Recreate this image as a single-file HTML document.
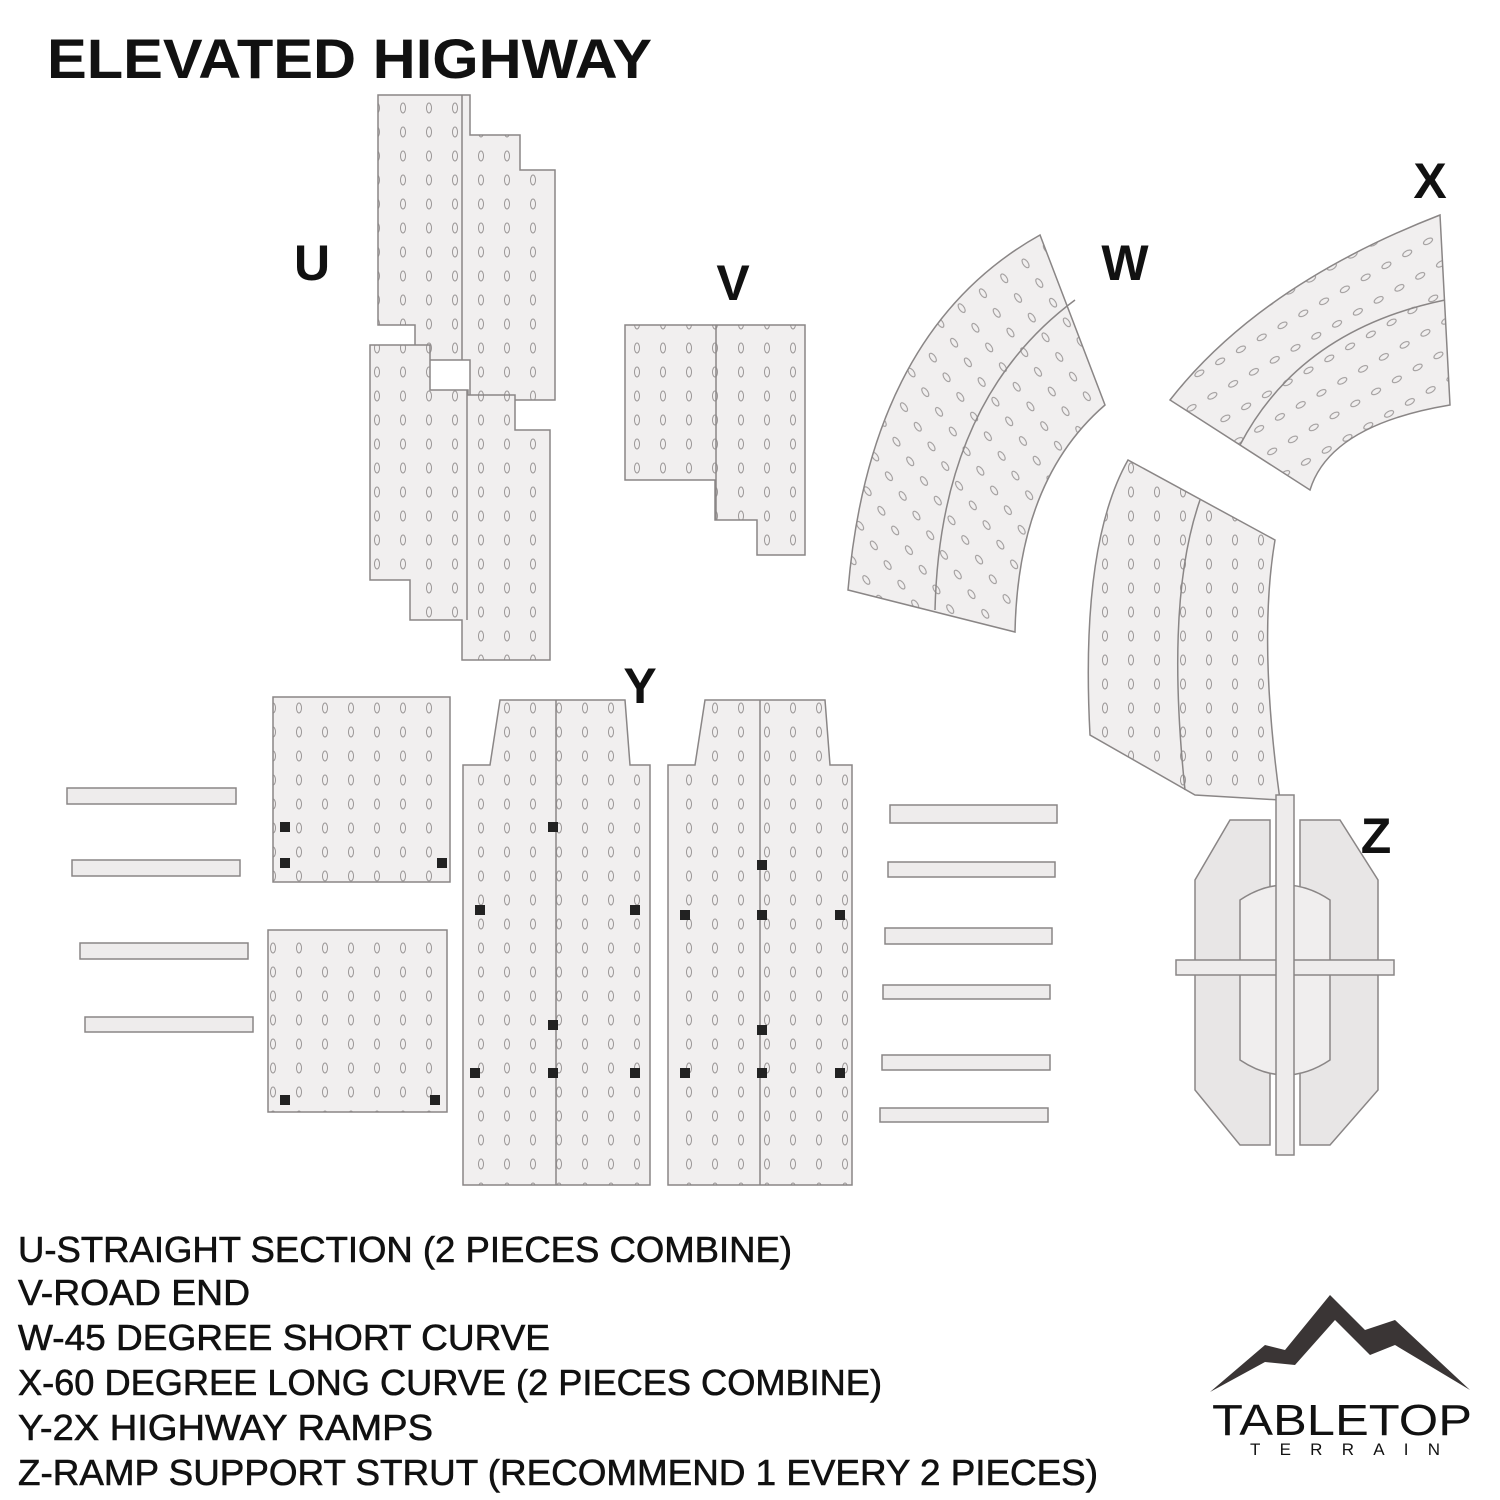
<!DOCTYPE html>
<html><head><meta charset="utf-8"><style>
html,body{margin:0;padding:0;background:#fff;}
svg{display:block;}
text{font-family:"Liberation Sans",sans-serif;fill:#111;}
</style></head><body>
<svg width="1500" height="1500" viewBox="0 0 1500 1500" xmlns="http://www.w3.org/2000/svg">
<defs>
<pattern id="ov" width="26" height="24" patternUnits="userSpaceOnUse">
<rect width="26" height="24" fill="#f1efef"/>
<ellipse cx="13" cy="12" rx="2.5" ry="5" fill="none" stroke="#9a9696" stroke-width="1"/>
</pattern>
<pattern id="ovr" width="26" height="24" patternUnits="userSpaceOnUse" patternTransform="rotate(-35)">
<rect width="26" height="24" fill="#f1efef"/>
<ellipse cx="13" cy="12" rx="2.5" ry="5" fill="none" stroke="#9a9696" stroke-width="1"/>
</pattern>
<pattern id="ovx" width="26" height="24" patternUnits="userSpaceOnUse" patternTransform="rotate(60)">
<rect width="26" height="24" fill="#f1efef"/>
<ellipse cx="13" cy="12" rx="2.5" ry="5" fill="none" stroke="#9a9696" stroke-width="1"/>
</pattern>
</defs>
<rect width="1500" height="1500" fill="#fff"/>
<text x="47" y="78" font-size="56" font-weight="bold" textLength="605" lengthAdjust="spacingAndGlyphs">ELEVATED HIGHWAY</text>

<g stroke="#8a8686" stroke-width="1.5">
<path d="M378,95 L470,95 L470,135 L520,135 L520,170 L555,170 L555,400 L470,400 L470,360 L415,360 L415,325 L378,325 Z" fill="url(#ov)"/>
<path d="M370,345 L430,345 L430,390 L468,390 L468,395 L515,395 L515,430 L550,430 L550,660 L462,660 L462,620 L410,620 L410,580 L370,580 Z" fill="url(#ov)"/>
<line x1="462" y1="95" x2="462" y2="360"/><line x1="467" y1="390" x2="467" y2="620"/>
<path d="M625,325 L805,325 L805,555 L757,555 L757,520 L715,520 L715,480 L625,480 Z" fill="url(#ov)"/>
<line x1="716" y1="325" x2="716" y2="520"/>
<path d="M848,590 L1015,632 Q1018,480 1105,405 L1040,235 Q870,330 848,590 Z" fill="url(#ovr)"/>
<path d="M935,610 Q940,400 1075,300" fill="none"/>
<path d="M1170,400 Q1260,285 1440,215 L1450,405 Q1330,425 1310,490 Z" fill="url(#ovx)"/>
<path d="M1240,445 Q1300,330 1445,300" fill="none"/>
<path d="M1090,735 Q1080,545 1128,460 L1275,540 Q1258,640 1280,800 L1195,795 Z" fill="url(#ov)"/>
<path d="M1185,790 Q1165,600 1200,500" fill="none"/>
<path d="M463,765 L490,765 L500,700 L625,700 L630,765 L650,765 L650,1185 L463,1185 Z" fill="url(#ov)"/>
<path d="M668,765 L695,765 L705,700 L825,700 L830,765 L852,765 L852,1185 L668,1185 Z" fill="url(#ov)"/>
<line x1="556" y1="700" x2="556" y2="1185"/><line x1="760" y1="700" x2="760" y2="1185"/>
<path d="M273,697 L450,697 L450,882 L273,882 Z" fill="url(#ov)"/>
<path d="M268,930 L447,930 L447,1112 L268,1112 Z" fill="url(#ov)"/>
</g>
<g fill="#222">
<rect x="548" y="822" width="10" height="10"/><rect x="475" y="905" width="10" height="10"/><rect x="630" y="905" width="10" height="10"/>
<rect x="548" y="1020" width="10" height="10"/><rect x="470" y="1068" width="10" height="10"/><rect x="548" y="1068" width="10" height="10"/><rect x="630" y="1068" width="10" height="10"/>
<rect x="757" y="860" width="10" height="10"/><rect x="680" y="910" width="10" height="10"/><rect x="757" y="910" width="10" height="10"/><rect x="835" y="910" width="10" height="10"/>
<rect x="757" y="1025" width="10" height="10"/><rect x="680" y="1068" width="10" height="10"/><rect x="757" y="1068" width="10" height="10"/><rect x="835" y="1068" width="10" height="10"/>
<rect x="280" y="822" width="10" height="10"/><rect x="280" y="858" width="10" height="10"/><rect x="437" y="858" width="10" height="10"/><rect x="280" y="1095" width="10" height="10"/><rect x="430" y="1095" width="10" height="10"/>
</g>
<g fill="#eeecec" stroke="#8a8686" stroke-width="1.5">
<rect x="67" y="788" width="169" height="16"/><rect x="72" y="860" width="168" height="16"/><rect x="80" y="943" width="168" height="16"/><rect x="85" y="1017" width="168" height="15"/>
<rect x="890" y="805" width="167" height="18"/><rect x="888" y="862" width="167" height="15"/><rect x="885" y="928" width="167" height="16"/><rect x="883" y="985" width="167" height="14"/><rect x="882" y="1055" width="168" height="15"/><rect x="880" y="1108" width="168" height="14"/>
<path d="M1230,820 L1270,820 L1270,1145 L1240,1145 L1195,1090 L1195,880 Z" fill="#e8e6e6"/>
<path d="M1300,820 L1340,820 L1378,880 L1378,1090 L1330,1145 L1300,1145 Z" fill="#e8e6e6"/>
<path d="M1240,900 Q1285,870 1330,900 L1330,1060 Q1285,1090 1240,1060 Z" fill="#f0eeee"/>
<rect x="1176" y="960" width="218" height="15"/>
<rect x="1276" y="795" width="18" height="360"/>
</g>

<g font-size="50" font-weight="bold" text-anchor="middle">
<text x="312" y="280">U</text><text x="733" y="300">V</text><text x="1125" y="280">W</text><text x="1430" y="198">X</text><text x="640" y="703">Y</text><text x="1376" y="853">Z</text>
</g>
<g font-size="36" stroke="#111" stroke-width="0.6">
<text x="18" y="1262" textLength="774" lengthAdjust="spacingAndGlyphs">U-STRAIGHT SECTION (2 PIECES COMBINE)</text>
<text x="18" y="1305" textLength="232" lengthAdjust="spacingAndGlyphs">V-ROAD END</text>
<text x="18" y="1350" textLength="532" lengthAdjust="spacingAndGlyphs">W-45 DEGREE SHORT CURVE</text>
<text x="18" y="1395" textLength="864" lengthAdjust="spacingAndGlyphs">X-60 DEGREE LONG CURVE (2 PIECES COMBINE)</text>
<text x="18" y="1440" textLength="415" lengthAdjust="spacingAndGlyphs">Y-2X HIGHWAY RAMPS</text>
<text x="18" y="1485" textLength="1080" lengthAdjust="spacingAndGlyphs">Z-RAMP SUPPORT STRUT (RECOMMEND 1 EVERY 2 PIECES)</text>
</g>
<path d="M1210,1392 L1265,1345 L1285,1350 L1330,1295 L1365,1330 L1395,1320 L1470,1390 L1420,1360 L1395,1345 L1370,1355 L1335,1320 L1295,1365 L1265,1362 Z" fill="#3a3535"/>
<text x="1212" y="1435" font-size="44" textLength="260" lengthAdjust="spacingAndGlyphs" fill="#3a3535">TABLETOP</text>
<text x="1250" y="1455" font-size="17" textLength="190" lengthAdjust="spacing" fill="#3a3535">TERRAIN</text>
</svg>
</body></html>
